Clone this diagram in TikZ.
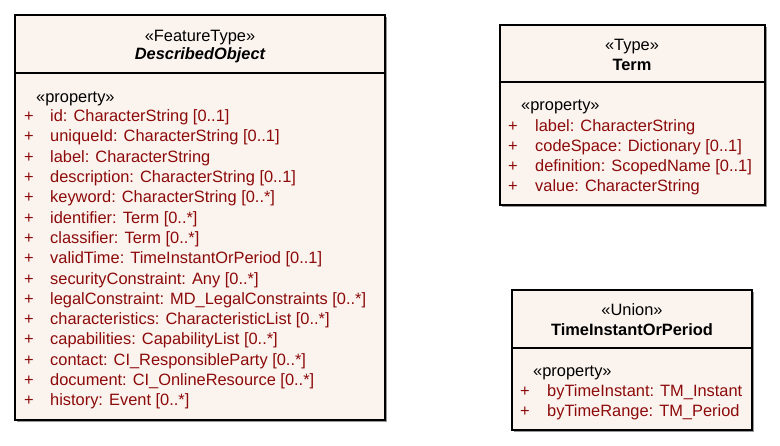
\documentclass[tikz,border=0pt]{standalone}
\usepackage{fontspec}
\setmainfont{Liberation Sans}
\definecolor{boxfill}{RGB}{251,243,238}
\definecolor{attr}{RGB}{140,10,10}
\tikzset{
  x=1pt, y=-1pt,
  umlbox/.style={draw=black, line width=1.1pt, fill=boxfill},
  shadowbox/.style={fill=black!40},
  txt/.style={font=\fontsize{16.4}{19}\selectfont, inner sep=0pt, anchor=mid west},
  hdr/.style={font=\fontsize{16.4}{19}\selectfont, inner sep=0pt, anchor=mid},
  att/.style={txt, text=attr},
}
\begin{document}
\begin{tikzpicture}
\useasboundingbox (0,0) rectangle (780,445);
\fill[white] (0,0) rectangle (780,445);
% shadows
\fill[shadowbox] (17,17) rectangle (387,422);
\fill[shadowbox] (502,27) rectangle (767,207);
\fill[shadowbox] (514,292) rectangle (754,432);
% boxes
\draw[umlbox] (15,15) rectangle (385,420);
\draw[line width=1.1pt] (15,73) -- (385,73);
\draw[umlbox] (500,25) rectangle (765,205);
\draw[line width=1.1pt] (500,82) -- (765,82);
\draw[umlbox] (512,290) rectangle (752,430);
\draw[line width=1.1pt] (512,348) -- (752,348);

% DescribedObject
\node[hdr] (do1) at (200,38.5) {«FeatureType»};
\node[hdr, font=\fontsize{16.4}{19}\selectfont\bfseries\itshape] (do2) at (200,56.5) {DescribedObject};
\node[txt] (dop) at (36,99.5) {«property»};
\foreach \i/\t in {0/{id: CharacterString [0..1]},
 1/{uniqueId: CharacterString [0..1]},
 2/{label: CharacterString},
 3/{description: CharacterString [0..1]},
 4/{keyword: CharacterString [0..*]},
 5/{identifier: Term [0..*]},
 6/{classifier: Term [0..*]},
 7/{validTime: TimeInstantOrPeriod [0..1]},
 8/{securityConstraint: Any [0..*]},
 9/{legalConstraint: MD\_LegalConstraints [0..*]},
 10/{characteristics: CharacteristicList [0..*]},
 11/{capabilities: CapabilityList [0..*]},
 12/{contact: CI\_ResponsibleParty [0..*]},
 13/{document: CI\_OnlineResource [0..*]},
 14/{history: Event [0..*]}} {
  \node[att] (dop\i) at (24,{119+\i*20.3}) {+};
  \node[att] (doa\i) at (50,{119+\i*20.3}) {\t};
}

% Term
\node[hdr] (t1) at (632,47.5) {«Type»};
\node[hdr, font=\fontsize{16.4}{19}\selectfont\bfseries] (t2) at (632,67.5) {Term};
\node[txt] (tp) at (521,107.5) {«property»};
\foreach \i/\t in {0/{label: CharacterString},
 1/{codeSpace: Dictionary [0..1]},
 2/{definition: ScopedName [0..1]},
 3/{value: CharacterString}} {
  \node[att] (tpp\i) at (508,{128.5+\i*20.2}) {+};
  \node[att] (ta\i) at (535,{128.5+\i*20.2}) {\t};
}

% TimeInstantOrPeriod
\node[hdr] (u1) at (632,312.5) {«Union»};
\node[hdr, font=\fontsize{16.4}{19}\selectfont\bfseries] (u2) at (632,332.5) {TimeInstantOrPeriod};
\node[txt] (up) at (533,373.5) {«property»};
\node[att] (upp0) at (520,393.5) {+};
\node[att] (ua0) at (547,393.5) {byTimeInstant: TM\_Instant};
\node[att] (upp1) at (520,413.5) {+};
\node[att] (ua1) at (547,413.5) {byTimeRange: TM\_Period};
\end{tikzpicture}
\end{document}
